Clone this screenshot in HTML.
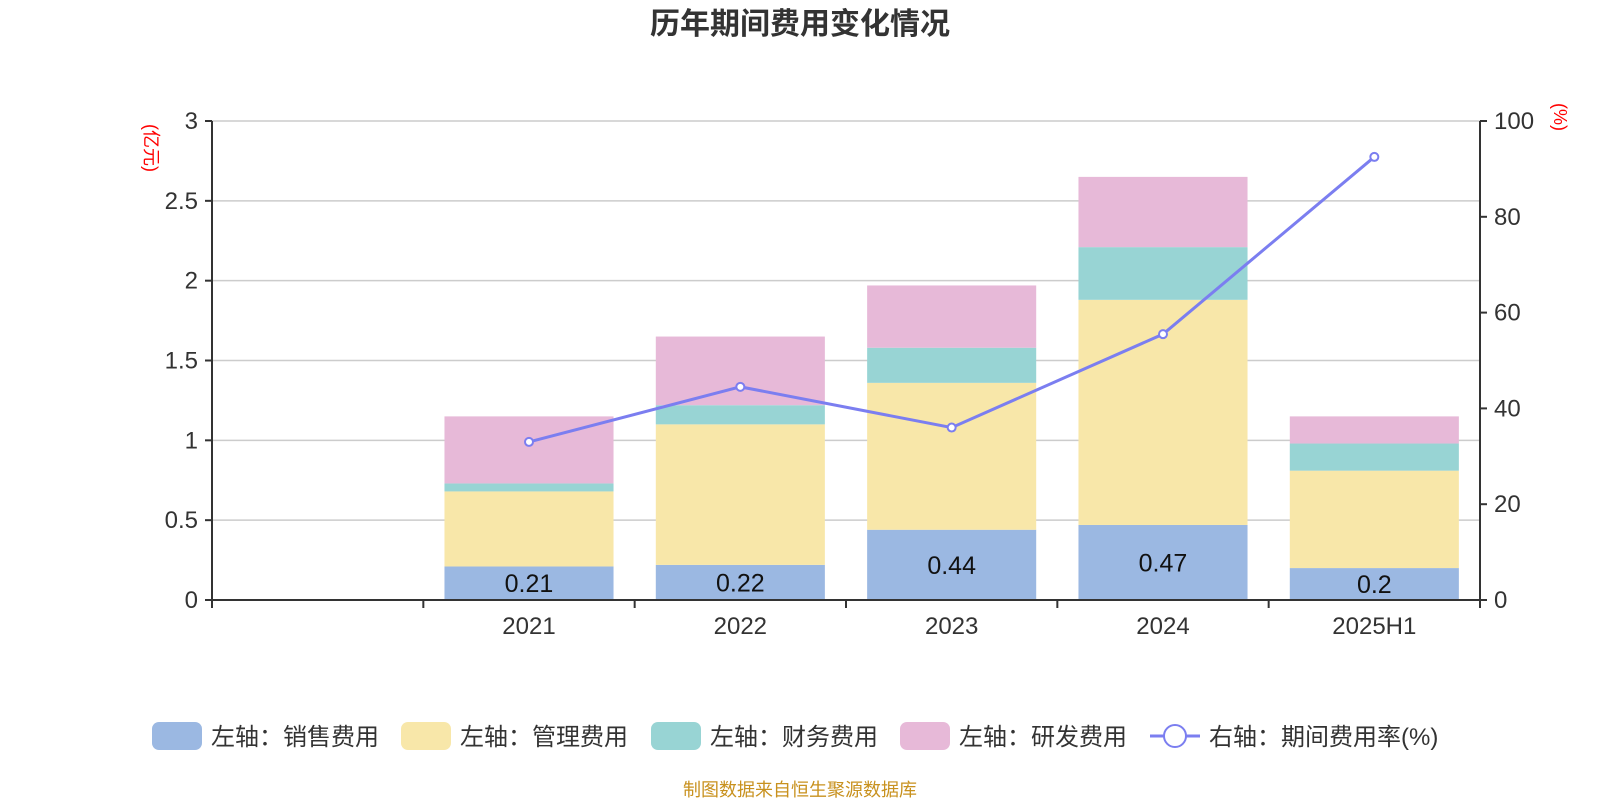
<!DOCTYPE html>
<html><head><meta charset="utf-8"><style>
body{margin:0;background:#fff;}
svg text{font-family:"Liberation Sans","Noto Sans CJK SC",sans-serif;}
</style></head><body>
<svg id="c" width="1600" height="800" xmlns="http://www.w3.org/2000/svg">
<text x="800" y="34" text-anchor="middle" font-size="30" font-weight="bold" fill="#333">历年期间费用变化情况</text>
<text transform="translate(145,148) rotate(90)" text-anchor="middle" font-size="18" fill="red">(亿元)</text>
<text transform="translate(1554,117) rotate(90)" text-anchor="middle" font-size="18" fill="red">(%)</text>
<g id="grid"></g><g id="bars"></g><g id="axes"></g><g id="line"></g>
<g id="legend" font-size="24" fill="#333"></g>
<text x="800" y="796" text-anchor="middle" font-size="18" fill="#c8911e">制图数据来自恒生聚源数据库</text>
</svg>
<script>
const categories=["","2021","2022","2023","2024","2025H1"];
const sales=[null,0.21,0.22,0.44,0.47,0.2];
const admin=[null,0.47,0.88,0.92,1.41,0.61];
const finance=[null,0.05,0.12,0.22,0.33,0.17];
const rnd=[null,0.42,0.43,0.39,0.44,0.17];
const rate=[null,33,44.5,36,55.5,92.5];
const leftTicks=[0,0.5,1,1.5,2,2.5,3];
const rightTicks=[0,20,40,60,80,100];
const NS="http://www.w3.org/2000/svg";
const L=212,R=1480,T=121,B=600;
const cw=(R-L)/categories.length;
const yL=v=>B-(v/3)*(B-T);
const yR=v=>B-(v/100)*(B-T);
const xC=i=>L+cw*(i+0.5);
function mk(tag,attrs,parent,txt){const e=document.createElementNS(NS,tag);for(const k in attrs)e.setAttribute(k,attrs[k]);if(txt!==undefined)e.textContent=txt;document.getElementById(parent).appendChild(e);return e;}
leftTicks.forEach(t=>{
 if(t>0){const g=mk('line',{x1:L,x2:R,y1:yL(t),y2:yL(t),stroke:'#ccc','stroke-width':1.5},'grid');
 
 }
 mk('line',{x1:L-7,x2:L,y1:yL(t),y2:yL(t),stroke:'#333','stroke-width':2},'axes');
 const tx=mk('text',{x:L-14,y:yL(t)+8,'text-anchor':'end','font-size':24,fill:'#333'},'axes',String(t));
 
 
});
rightTicks.forEach(t=>{
 mk('line',{x1:R,x2:R+7,y1:yR(t),y2:yR(t),stroke:'#333','stroke-width':2},'axes');
 const tx=mk('text',{x:R+14,y:yR(t)+8,'font-size':24,fill:'#333'},'axes',String(t));
 
 
});
mk('line',{x1:L,x2:L,y1:T,y2:B,stroke:'#333','stroke-width':2},'axes');
mk('line',{x1:R,x2:R,y1:T,y2:B,stroke:'#333','stroke-width':2},'axes');
mk('line',{x1:L,x2:R,y1:B,y2:B,stroke:'#333','stroke-width':2},'axes');
for(let i=0;i<=categories.length;i++)mk('line',{x1:L+cw*i,x2:L+cw*i,y1:B,y2:B+8,stroke:'#333','stroke-width':2},'axes');
categories.forEach((c,i)=>{const tx=mk('text',{x:xC(i),y:B+34,'text-anchor':'middle','font-size':24,fill:'#333'},'axes',c);
 
 });
const series=[[sales,'#9bb8e2','sales'],[admin,'#f8e7a9','admin'],[finance,'#98d4d4','finance'],[rnd,'#e7b9d8','rnd']];
const bw=cw*0.8;
categories.forEach((c,i)=>{
 let acc=0;
 series.forEach(([arr,col,nm])=>{
  const v=arr[i];if(v==null)return;
  const r=mk('rect',{x:xC(i)-bw/2,y:yL(acc+v),width:bw,height:yL(acc)-yL(acc+v),fill:col},'bars');
  
  
  acc+=v;
 });
 if(sales[i]!=null){const tx=mk('text',{x:xC(i),y:(yL(sales[i])+B)/2+9,'text-anchor':'middle','font-size':25,fill:'#111'},'bars',String(sales[i]));
  
  }
});
let d='';rate.forEach((v,i)=>{if(v==null)return;d+=(d?'L':'M')+xC(i)+','+yR(v);});
const p=mk('path',{d:d,fill:'none',stroke:'#7b7ef0','stroke-width':3},'line');


rate.forEach((v,i)=>{if(v==null)return;const c=mk('circle',{cx:xC(i),cy:yR(v),r:4,fill:'#fff',stroke:'#7b7ef0','stroke-width':2},'line');
 
 });
const leg=[['左轴：销售费用','#9bb8e2',152],['左轴：管理费用','#f8e7a9',401],['左轴：财务费用','#98d4d4',651],['左轴：研发费用','#e7b9d8',900]];
leg.forEach(([t,col,x])=>{
 const r=mk('rect',{x:x,y:722,width:50,height:28,rx:7,fill:col},'legend');
 
 
 const tx=mk('text',{x:x+59,y:745},'legend',t);
 
 
});
mk('line',{x1:1150,x2:1200,y1:736,y2:736,stroke:'#7b7ef0','stroke-width':3},'legend');
const lc=mk('circle',{cx:1175,cy:736,r:11,fill:'#fff',stroke:'#7b7ef0','stroke-width':2},'legend');


const lt=mk('text',{x:1209,y:745},'legend','右轴：期间费用率(%)');


</script>
</body></html>
